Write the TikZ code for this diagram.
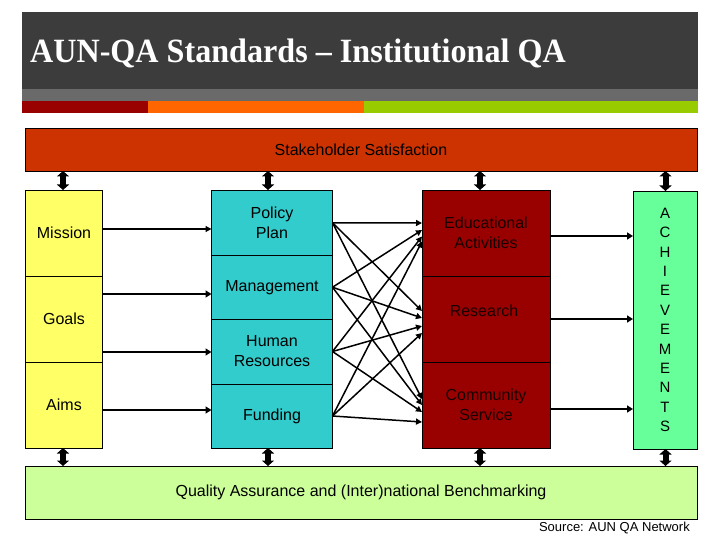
\documentclass[tikz,border=0pt]{standalone}
\usepackage{fontspec}
\setmainfont{Liberation Sans}
\newfontfamily\titlefont{Liberation Serif}
\usetikzlibrary{arrows.meta,calc}
\definecolor{titlebg}{HTML}{3C3C3C}
\definecolor{greyband}{HTML}{6A6A6A}
\definecolor{stripered}{HTML}{990000}
\definecolor{stripeorange}{HTML}{FF6600}
\definecolor{stripegreen}{HTML}{99CC00}
\definecolor{stakeholder}{HTML}{CC3300}
\definecolor{yel}{HTML}{FFFF66}
\definecolor{cya}{HTML}{33CCCC}
\definecolor{dred}{HTML}{990000}
\definecolor{lgreen}{HTML}{66FF99}
\definecolor{qagreen}{HTML}{CCFF99}
\begin{document}
\begin{tikzpicture}[x=1pt,y=-1pt,
  cell/.style={draw=black, line width=0.8pt, inner sep=0pt, outer sep=0pt, align=center,
    font=\fontsize{16}{20}\selectfont},
  redtxt/.style={text=black!85!dred},
  dbl/.style={line width=6pt, {Triangle[width=12pt,length=5.5pt]}-{Triangle[width=12pt,length=5.5pt]}},
  arr/.style={line width=1.5pt, -{Triangle[width=6pt,length=6pt]}},
  arrthick/.style={line width=2.2pt, -{Triangle[width=7pt,length=6pt]}}]
\useasboundingbox (0,0) rectangle (720,540);
% title area
\fill[titlebg] (22,12) rectangle (698,89);
\fill[greyband] (22,89) rectangle (698,101);
\fill[stripered] (22,101) rectangle (148,113);
\fill[stripeorange] (148,101) rectangle (364,113);
\fill[stripegreen] (364,101) rectangle (698,113);
\node[anchor=base west, text=white, inner sep=0pt, font=\titlefont\bfseries\fontsize{34}{34}\selectfont] (title) at (30,63) {\scalebox{0.945}[1]{AUN-QA Standards – Institutional QA}};
% top and bottom bars
\node[cell, fill=stakeholder, minimum width=672pt, minimum height=43pt] (top) at (361,149.5) {Stakeholder Satisfaction};
\node[cell, fill=qagreen, minimum width=672pt, minimum height=53pt] (bottom) at (361,492.5) {Quality Assurance and (Inter)national Benchmarking};
% yellow column
\node[cell, fill=yel, minimum width=77pt, minimum height=86.5pt] (mission) at (64,233.25) {Mission};
\node[cell, fill=yel, minimum width=77pt, minimum height=85.5pt] (goals) at (64,319.25) {Goals};
\node[cell, fill=yel, minimum width=77pt, minimum height=86pt] (aims) at (64,405) {Aims};
% cyan column
\node[cell, fill=cya, minimum width=121pt, minimum height=65.5pt] (policy) at (272,222.75) {Policy\\Plan};
\node[cell, fill=cya, minimum width=121pt, minimum height=63.5pt] (mgmt) at (272,287.25) {Management};
\node[cell, fill=cya, minimum width=121pt, minimum height=65pt] (hr) at (272,351.5) {Human\\Resources};
\node[cell, fill=cya, minimum width=121pt, minimum height=64pt] (fund) at (272,416) {Funding};
% red column
\node[cell, fill=dred, redtxt, minimum width=128pt, minimum height=86.5pt] (edu) at (486,233.25) {Educational\\Activities};
\node[cell, fill=dred, minimum width=128pt, minimum height=85.5pt] (res) at (486,319.25) {};
\node[redtxt, font=\fontsize{16}{20}\selectfont, inner sep=0pt] (restext) at (484,311) {Research};
\node[cell, fill=dred, redtxt, minimum width=128pt, minimum height=86pt] (comm) at (486,405) {Community\\Service};
% green column
\node[cell, fill=lgreen, minimum width=64pt, minimum height=258pt, font=\fontsize{15}{19.4}\selectfont] (ach) at (665,320) {A\\C\\H\\I\\E\\V\\E\\M\\E\\N\\T\\S};
% source
\node[anchor=east, inner sep=0pt, font=\fontsize{13}{15}\selectfont] (src) at (690,528) {Source: AUN QA Network};
% double arrows
\foreach \n/\x in {mission/63, policy/268, edu/480, ach/665.5}{
  \draw[dbl] (top.south -| \x,0) -- (\n.north -| \x,0);
}
\foreach \n/\x in {aims/63, fund/268, comm/480, ach/665.5}{
  \draw[dbl] (\n.south -| \x,0) -- (bottom.north -| \x,0);
}
% yellow -> cyan
\draw[arr, line width=1.2pt] (mission.east |- 0,229) -- (policy.west |- 0,229);
\draw[arrthick] (goals.east |- 0,294) -- (mgmt.west |- 0,294);
\draw[arrthick] (goals.east |- 0,352) -- (hr.west |- 0,352);
\draw[arrthick] (aims.east |- 0,410) -- (fund.west |- 0,410);
% cyan -> red
\foreach \s/\a/\b/\c in {policy/223/311/399, mgmt/230/318/405, hr/236.5/326/412, fund/241.5/333/422}{
  \draw[arr] (\s.east) -- (edu.west |- 0,\a);
  \draw[arr] (\s.east) -- (res.west |- 0,\b);
  \draw[arr] (\s.east) -- (comm.west |- 0,\c);
}
% red -> green
\draw[arrthick] (edu.east |- 0,236) -- (ach.west |- 0,236);
\draw[arrthick] (res.east |- 0,319) -- (ach.west |- 0,319);
\draw[arrthick] (comm.east |- 0,409) -- (ach.west |- 0,409);
\end{tikzpicture}
\end{document}
